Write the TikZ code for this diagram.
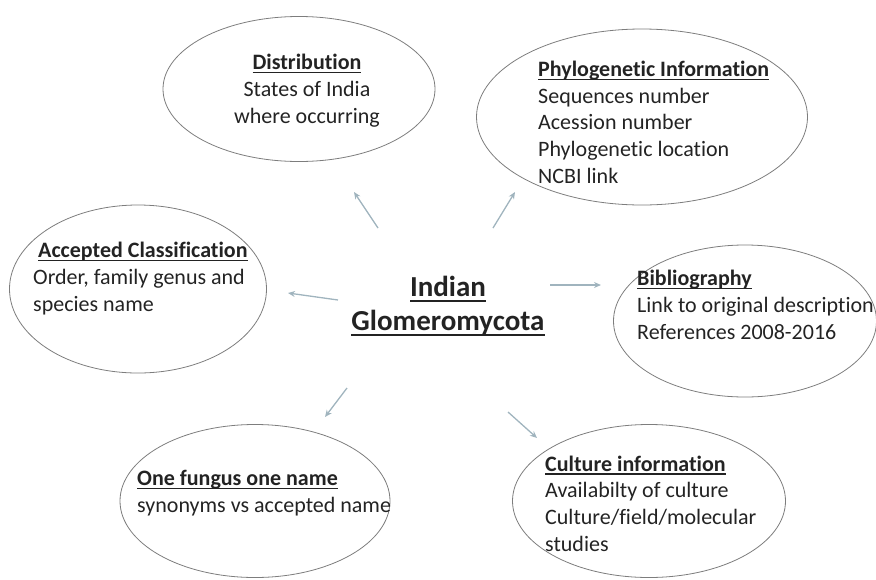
\documentclass[tikz,border=0pt]{standalone}
\usepackage{fontspec}
\setmainfont{Carlito}[Ligatures=NoCommon]
\usetikzlibrary{positioning,shapes,arrows.meta}
\definecolor{inkgray}{RGB}{35,35,35}
\definecolor{rimgray}{RGB}{125,125,125}
\definecolor{arrowblue}{RGB}{160,180,190}
\newsavebox{\hdbox}
\newcommand{\hd}[1]{\sbox\hdbox{\bfseries #1}\rlap{\rule[-3.4pt]{\wd\hdbox}{1.3pt}}\usebox\hdbox}
\newcommand{\bighd}[1]{\sbox\hdbox{#1}\rlap{\rule[-5.5pt]{\wd\hdbox}{2pt}}\usebox\hdbox}
\tikzset{
  blob/.style={draw=rimgray, line width=0.8pt, ellipse, inner sep=0pt},
  info/.style={text=inkgray, inner sep=0pt, align=left, anchor=base west,
    font=\fontsize{22}{26.6}\selectfont},
  pointer/.style={draw=arrowblue, line width=1.3pt, -{Stealth[length=7pt,width=6pt]}}
}

\begin{document}
\begin{tikzpicture}[x=1pt,y=-1pt]
\useasboundingbox (0,0) rectangle (876,579);

\node[blob, minimum width=272, minimum height=145] (distE) at (299,89) {};
\node[info, align=center, anchor=base] (distT) at (307,123)
  {\hd{Distribution}\\States of India\\where occurring};

\node[blob, minimum width=331, minimum height=176] (phyloE) at (642,117) {};
\node[info] (phyloT) at (538,183)
  {\hd{Phylogenetic Information}\\Sequences number\\Acession number\\Phylogenetic location\\NCBI link};

\node[blob, minimum width=257, minimum height=168] (classE) at (138,289) {};
\node[info] (classT) at (33,311)
  {\hspace*{5pt}\hd{Accepted Classification}\\Order, family genus and\\species name};

\node[blob, minimum width=263, minimum height=152] (biblioE) at (745,321) {};
\node[info] (biblioT) at (637,339)
  {\hd{Bibliography}\\Link to original description\\References 2008-2016};

\node[blob, minimum width=270, minimum height=153] (fungusE) at (255,501) {};
\node[info] (fungusT) at (137,512)
  {\hd{One fungus one name}\\synonyms vs accepted name};

\node[blob, minimum width=273, minimum height=153] (cultureE) at (649,501) {};
\node[info] (cultureT) at (545,551)
  {\hd{Culture information}\\Availabilty of culture\\Culture/field/molecular\\studies};

\node[text=inkgray, inner sep=0pt, align=center, anchor=base,
  font=\fontsize{29}{34}\selectfont\bfseries] (hub) at (448,330)
  {\bighd{Indian}\\\bighd{Glomeromycota}};

\coordinate (dist0) at (378,228);   \coordinate (dist1) at (354,192);
\coordinate (phylo0) at (493,228);  \coordinate (phylo1) at (515,192);
\coordinate (class0) at (338,300);  \coordinate (class1) at (288,293);
\coordinate (biblio0) at (550,285); \coordinate (biblio1) at (601,285);
\coordinate (fungus0) at (347,388); \coordinate (fungus1) at (325,417);
\coordinate (culture0) at (508,412);\coordinate (culture1) at (537,438);

\draw[pointer] (dist0) -- (dist1);
\draw[pointer] (phylo0) -- (phylo1);
\draw[pointer] (class0) -- (class1);
\draw[pointer] (biblio0) -- (biblio1);
\draw[pointer] (fungus0) -- (fungus1);
\draw[pointer] (culture0) -- (culture1);
\end{tikzpicture}
\end{document}
